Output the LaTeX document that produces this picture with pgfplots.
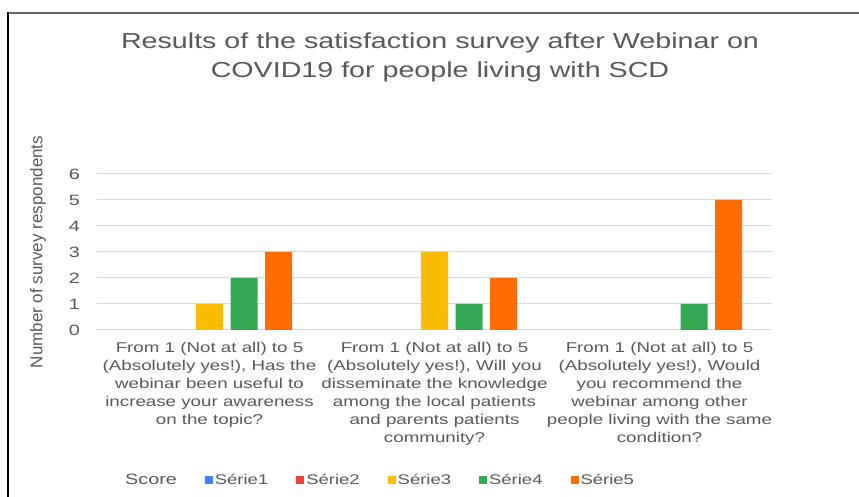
\documentclass[border=0pt]{standalone}
\usepackage{fontspec}
\setmainfont[FakeStretch=1.32]{Liberation Sans}
\newfontfamily\plainfont{Liberation Sans}
\usepackage{pgfplots}
\pgfplotsset{compat=1.18}
\definecolor{txt}{HTML}{595959}
\definecolor{gridc}{HTML}{D9D9D9}
\definecolor{s1}{HTML}{4285F4}
\definecolor{s2}{HTML}{EA4335}
\definecolor{s3}{HTML}{FBBC04}
\definecolor{s4}{HTML}{34A853}
\definecolor{s5}{HTML}{FF6D01}
\begin{document}
\begin{tikzpicture}[x=1pt,y=1pt]
\useasboundingbox (0,0) rectangle (859,497);
\fill[white] (0,0) rectangle (859,497);
\draw[color=black!60, line width=2pt] (7,484) -- (859,484);
\draw[black, line width=1.5pt] (8,485) -- (8,0);
\node[font=\fontsize{21.7}{29}\selectfont, text=txt, align=center, anchor=north, inner sep=0pt] at (440,464)
  {Results of the satisfaction survey after Webinar on\\COVID19 for people living with SCD};
\begin{axis}[
  at={(97pt,167pt)}, anchor=south west,
  scale only axis, width=675pt, height=156pt,
  xmin=-0.5, xmax=2.5, ymin=0, ymax=6,
  ybar=7.5pt, bar width=27pt,
  axis line style={draw=none},
  major tick length=0pt,
  ymajorgrids, major grid style={line width=1pt, color=gridc},
  ytick={0,1,2,3,4,5,6},
  /pgf/number format/assume math mode=true,
  yticklabel style={font=\fontsize{15}{18}\selectfont, text=txt, anchor=east, inner sep=0pt, xshift=-17pt},
  xtick={0,1,2},
  xticklabels={{From 1 (Not at all) to 5\\(Absolutely yes!), Has the\\webinar been useful to\\increase your awareness\\on the topic?},
               {From 1 (Not at all) to 5\\(Absolutely yes!), Will you\\disseminate the knowledge\\among the local patients\\and parents patients\\community?},
               {From 1 (Not at all) to 5\\(Absolutely yes!), Would\\you recommend the\\webinar among other\\people living with the same\\condition?}},
  xticklabel style={align=center, font=\fontsize{14.2}{18}\selectfont, text=txt, anchor=north, inner sep=0pt, yshift=-12pt},
  ylabel={Number of survey respondents},
  ylabel style={at={(axis description cs:-0.0874,0.5)}, anchor=center, font=\plainfont\fontsize{17}{20}\selectfont, text=txt},
  legend columns=6,
  legend style={at={(axis description cs:0.034,-0.96)}, anchor=west, draw=none, fill=none,
    font=\fontsize{14}{17}\selectfont, text=txt,
    /tikz/every even column/.append style={column sep=26pt},
    nodes={inner sep=2pt}},
  legend image code/.code={\fill[#1] (0pt,-4pt) rectangle (8pt,4pt);},
]
\addlegendimage{empty legend}
\addlegendentry{\fontsize{15}{17}\selectfont Score\hspace{22pt}}
\addplot[fill=none, draw=none, legend image code/.code={\fill[s1] (0pt,-4pt) rectangle (8pt,4pt);}] coordinates {(0,0) (1,0) (2,0)};
\addlegendentry{Série1}
\addplot[fill=none, draw=none, legend image code/.code={\fill[s2] (0pt,-4pt) rectangle (8pt,4pt);}] coordinates {(0,0) (1,0) (2,0)};
\addlegendentry{Série2}
\addplot[fill=s3, draw=none] coordinates {(0,1) (1,3)};
\addlegendentry{Série3}
\addplot[fill=s4, draw=none] coordinates {(0,2) (1,1) (2,1)};
\addlegendentry{Série4}
\addplot[fill=s5, draw=none] coordinates {(0,3) (1,2) (2,5)};
\addlegendentry{Série5}
\end{axis}
\end{tikzpicture}
\end{document}
